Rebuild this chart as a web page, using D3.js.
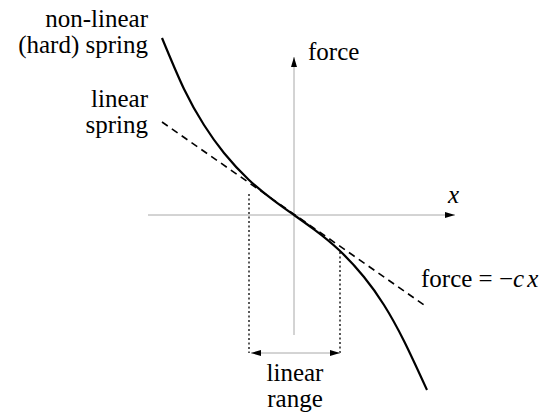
<!DOCTYPE html>
<html>
<head>
<meta charset="utf-8">
<script src="https://cdn.jsdelivr.net/npm/d3@7"></script>
<style>
  body { margin: 0; background: #fff; }
</style>
</head>
<body>
<div class="container"></div>
<script>
const wd = 547
const ht = 413

// curve points (x, force), in plot units
const springX = [-1.32, -1.1, -0.9, -0.7, -0.45, -0.2, 0, 0.2, 0.45, 0.7, 0.9, 1.1, 1.33]
const springF = [1.77, 1.26, 0.90, 0.62, 0.35, 0.144, 0, -0.144, -0.35, -0.62, -0.90, -1.26, -1.75]
// tangent line (linear spring)
const linearX = [-1.32, 1.33]
const linearF = [0.93, -0.92]
// linear range bounds
const rangeX = [-0.45, 0.46]
const rangeTopF = [0.21, -0.37]
const rangeBottomF = -1.38
// axis extents
const axisX = [-1.46, 1.61]
const axisF = [-1.2, 1.58]

const x = d3.scaleLinear().domain([-1, 1]).range([194, 394])
const y = d3.scaleLinear().domain([-1, 1]).range([315, 115])

const svg = d3.select(".container").append("svg")
  .attr("width", wd)
  .attr("height", ht)

const defs = svg.append("defs")
defs.append("marker")
  .attr("id", "arr")
  .attr("viewBox", "0 0 10 6")
  .attr("refX", 10)
  .attr("refY", 3)
  .attr("markerWidth", 10)
  .attr("markerHeight", 6)
  .attr("markerUnits", "userSpaceOnUse")
  .attr("orient", "auto-start-reverse")
  .append("path")
  .attr("d", "M0,0 L10,3 L0,6 Z")
  .attr("fill", "#000")

const axisColor = "#a8a8a8"

// axes
svg.append("line")
  .attr("x1", x(axisX[0])).attr("y1", y(0))
  .attr("x2", x(axisX[1])).attr("y2", y(0))
  .attr("stroke", axisColor).attr("stroke-width", 1)
  .attr("marker-end", "url(#arr)")

svg.append("line")
  .attr("x1", x(0)).attr("y1", y(axisF[0]))
  .attr("x2", x(0)).attr("y2", y(axisF[1]))
  .attr("stroke", axisColor).attr("stroke-width", 1)
  .attr("marker-end", "url(#arr)")

// dotted verticals for linear range
rangeX.forEach((v, i) => {
  svg.append("line")
    .attr("x1", x(v)).attr("y1", y(rangeTopF[i]))
    .attr("x2", x(v)).attr("y2", y(rangeBottomF))
    .attr("stroke", "#000").attr("stroke-width", 1.3)
    .attr("stroke-dasharray", "2,2.5")
})

// double arrow under the range
svg.append("line")
  .attr("x1", x(rangeX[0]) + 2).attr("y1", y(rangeBottomF))
  .attr("x2", x(rangeX[1])).attr("y2", y(rangeBottomF))
  .attr("stroke", axisColor).attr("stroke-width", 1)
  .attr("marker-start", "url(#arr)")
  .attr("marker-end", "url(#arr)")

// linear spring (dashed)
const line = d3.line().x(d => x(d[0])).y(d => y(d[1]))
svg.append("path")
  .attr("d", line(d3.zip(linearX, linearF)))
  .attr("fill", "none")
  .attr("stroke", "#000")
  .attr("stroke-width", 1.6)
  .attr("stroke-dasharray", "7,5")

// hard spring (solid)
const curve = d3.line().x(d => x(d[0])).y(d => y(d[1])).curve(d3.curveNatural)
svg.append("path")
  .attr("d", curve(d3.zip(springX, springF)))
  .attr("fill", "none")
  .attr("stroke", "#000")
  .attr("stroke-width", 2.2)

// labels
const lbl = (tx, ty, anchor) => svg.append("text")
  .attr("x", tx).attr("y", ty)
  .attr("text-anchor", anchor)
  .attr("font-family", "Liberation Serif, Times New Roman, DejaVu Serif, serif")
  .attr("font-size", 25)
  .attr("fill", "#000")

lbl(148, 27, "end").text("non-linear")
lbl(148, 53, "end").text("(hard) spring")
lbl(148, 107, "end").text("linear")
lbl(148, 133, "end").text("spring")

lbl(308, 60, "start").text("force")

lbl(448, 203, "start").attr("font-style", "italic").text("x")

const eq = lbl(421, 287, "start")
eq.append("tspan").text("force = \u2212")
eq.append("tspan").attr("font-style", "italic").text("c")
eq.append("tspan").attr("font-style", "italic").attr("dx", 3).text("x")

lbl(295, 381, "middle").text("linear")
lbl(295, 407, "middle").text("range")
</script>
</body>
</html>
